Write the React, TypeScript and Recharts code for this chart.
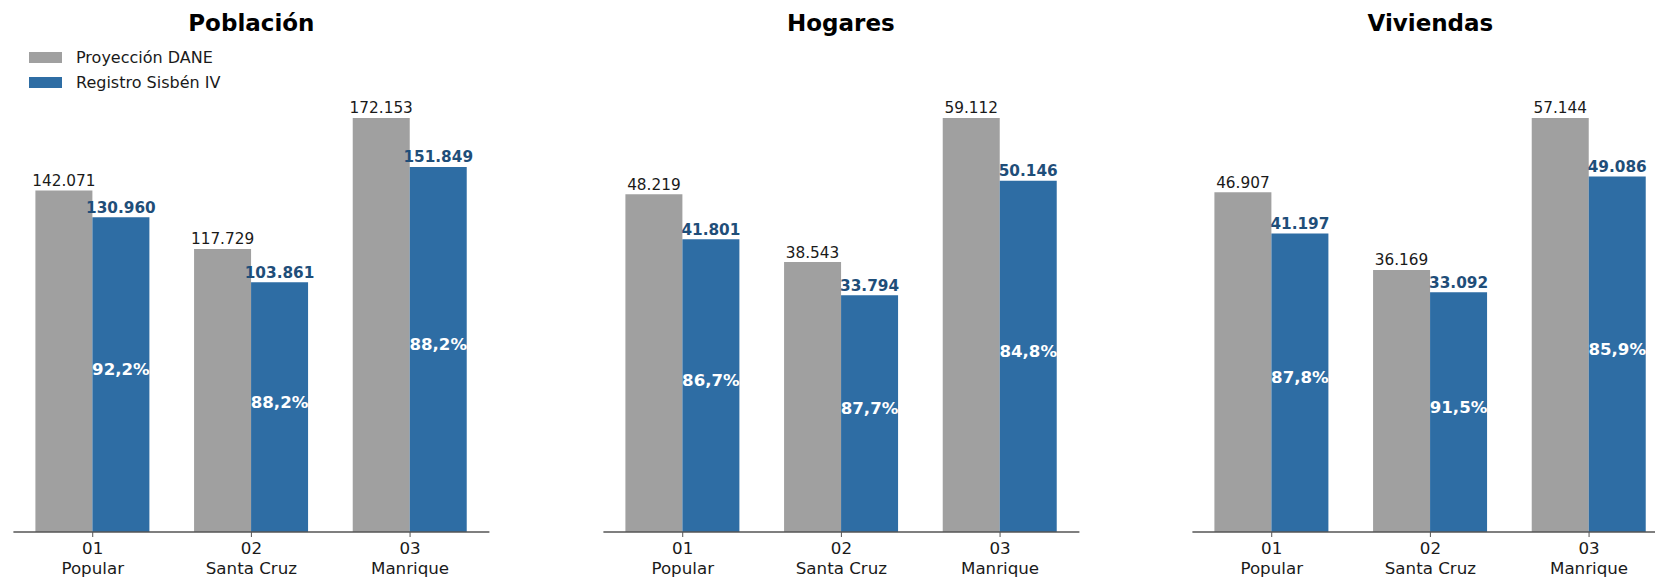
import { BarChart, Bar, XAxis, YAxis, LabelList, Legend } from 'recharts';

const comunaCodes = ['01', '02', '03'];
const comunaNames = ['Popular', 'Santa Cruz', 'Manrique'];
const panelTitles = ['Población', 'Hogares', 'Viviendas'];
const seriesNames = ['Proyección DANE', 'Registro Sisbén IV'];

const poblacionDane = [142071, 117729, 172153];
const poblacionSisben = [130960, 103861, 151849];
const hogaresDane = [48219, 38543, 59112];
const hogaresSisben = [41801, 33794, 50146];
const viviendasDane = [46907, 36169, 57144];
const viviendasSisben = [41197, 33092, 49086];

const GRAY = '#a0a0a0';
const BLUE = '#2e6da4';
const BLUE_TEXT = '#1f4e79';
const FONT = '"DejaVu Sans", sans-serif';

const fmt = (n: number) => String(n).replace(/\B(?=(\d{3})+(?!\d))/g, '.');
const pct = (a: number, b: number) => ((a / b) * 100).toFixed(1).replace('.', ',') + '%';

const valueLabel = (color: string, weight: string) => (props: any) => {
  const x = Number(props.x);
  const y = Number(props.y);
  const w = Number(props.width);
  return (
    <text x={x + w / 2} y={y - 4.6} textAnchor="middle" fill={color} fontWeight={weight} fontSize={15.3} fontFamily={FONT}>
      {fmt(Number(props.value))}
    </text>
  );
};

const pctLabel = (props: any) => {
  const x = Number(props.x);
  const y = Number(props.y);
  const w = Number(props.width);
  const h = Number(props.height);
  return (
    <text x={x + w / 2} y={y + h / 2 + 0.7} textAnchor="middle" fill="#fff" fontWeight="bold" fontSize={16.6} fontFamily={FONT}>
      {props.value}
    </text>
  );
};

function ComunaTick(props: any) {
  const { x, y, payload } = props;
  return (
    <g>
      <text x={x} y={y + 15} textAnchor="middle" fill="#1a1a1a" fontSize={16.7} fontFamily={FONT}>
        {payload.value}
      </text>
      <text x={x} y={y + 35} textAnchor="middle" fill="#1a1a1a" fontSize={16.7} fontFamily={FONT}>
        {comunaNames[payload.index]}
      </text>
    </g>
  );
}

function LegendBox(props: any) {
  const items = props.payload || [];
  return (
    <div style={{ fontFamily: FONT, fontSize: 16, color: '#1a1a1a' }}>
      {items.map((it: any) => (
        <div key={it.value} style={{ display: 'flex', alignItems: 'center', height: 25.6 }}>
          <span style={{ display: 'inline-block', width: 33, height: 11, background: it.color, marginRight: 14 }} />
          <span style={{ whiteSpace: 'nowrap' }}>{it.value}</span>
        </div>
      ))}
    </div>
  );
}

function Panel({ title, dane, sisben, left, showLegend }: { title: string; dane: number[]; sisben: number[]; left: number; showLegend: boolean }) {
  const data = comunaCodes.map((code, i) => ({
    code,
    dane: dane[i],
    sisben: sisben[i],
    pct: pct(sisben[i], dane[i]),
  }));
  const max = Math.max(...dane, ...sisben);
  return (
    <div style={{ position: 'absolute', left, top: 0, width: 590, height: 578 }}>
      <div
        style={{
          position: 'absolute',
          left: 13.4,
          width: 476,
          top: 12.1,
          textAlign: 'center',
          fontSize: 23,
          lineHeight: '23px',
          fontWeight: 'bold',
          fontFamily: FONT,
          color: '#000',
          zIndex: 2,
        }}
      >
        {title}
      </div>
      <BarChart
        width={590}
        height={578}
        data={data}
        margin={{ top: 56, right: 100.6, bottom: 0, left: 13.4 }}
        barGap={0}
        barSize={57}
      >
        <XAxis
          dataKey="code"
          height={46}
          interval={0}
          axisLine={{ stroke: '#555', strokeWidth: 1.3 }}
          tickLine={{ stroke: '#555', strokeWidth: 1 }}
          tickSize={5}
          tickMargin={2}
          tick={<ComunaTick />}
        />
        <YAxis hide domain={[0, max * 1.15]} />
        {showLegend && (
          <Legend
            layout="vertical"
            align="center"
            verticalAlign="middle"
            wrapperStyle={{ top: 44.5, left: 29 }}
            content={<LegendBox />}
          />
        )}
        <Bar dataKey="dane" name={seriesNames[0]} fill={GRAY} isAnimationActive={false}>
          <LabelList dataKey="dane" content={valueLabel('#1a1a1a', 'normal')} />
        </Bar>
        <Bar dataKey="sisben" name={seriesNames[1]} fill={BLUE} isAnimationActive={false}>
          <LabelList dataKey="sisben" content={valueLabel(BLUE_TEXT, 'bold')} />
          <LabelList dataKey="pct" content={pctLabel} />
        </Bar>
      </BarChart>
    </div>
  );
}

export default function App() {
  return (
    <div
      style={{
        position: 'absolute',
        left: 0,
        top: 0,
        width: 1655,
        height: 578,
        overflow: 'hidden',
        background: '#fff',
        fontFamily: FONT,
      }}
    >
      <Panel title={panelTitles[0]} dane={poblacionDane} sisben={poblacionSisben} left={0} showLegend />
      <Panel title={panelTitles[1]} dane={hogaresDane} sisben={hogaresSisben} left={589.5} showLegend={false} />
      <Panel title={panelTitles[2]} dane={viviendasDane} sisben={viviendasSisben} left={1179} showLegend={false} />
    </div>
  );
}
